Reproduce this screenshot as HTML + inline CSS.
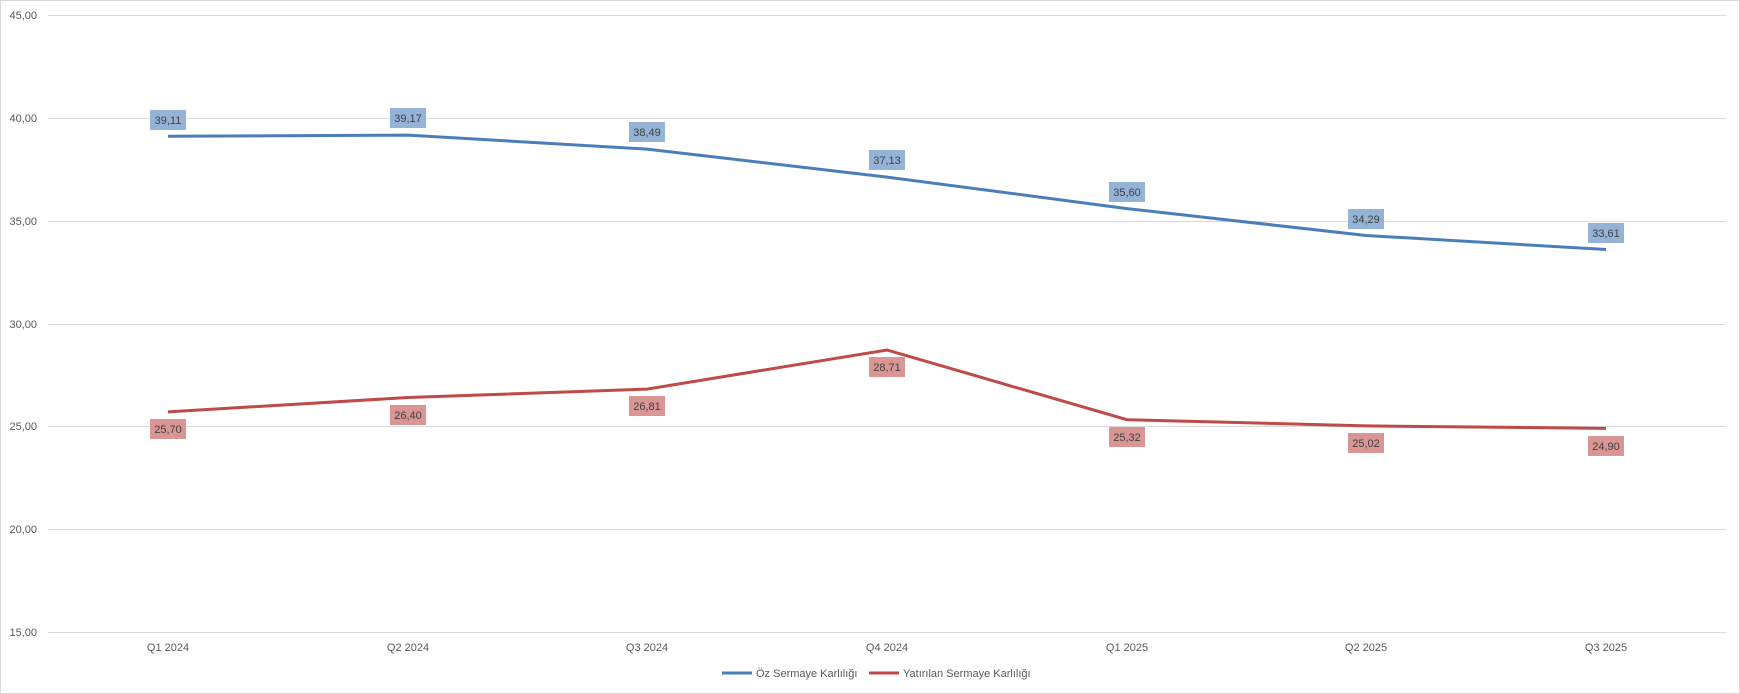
<!DOCTYPE html><html><head><meta charset="utf-8"><style>body{margin:0;background:#fff}svg{display:block;font-family:"Liberation Sans",sans-serif}</style></head><body>
<svg width="1740" height="694" xmlns="http://www.w3.org/2000/svg">
<rect x="0.5" y="0.5" width="1739" height="693" fill="#fff" stroke="#d9d9d9"/>
<g stroke="#d9d9d9" stroke-width="1">
<line x1="48" x2="1726" y1="15.5" y2="15.5"/><line x1="48" x2="1726" y1="118.5" y2="118.5"/><line x1="48" x2="1726" y1="221.5" y2="221.5"/><line x1="48" x2="1726" y1="324.5" y2="324.5"/><line x1="48" x2="1726" y1="426.5" y2="426.5"/><line x1="48" x2="1726" y1="529.5" y2="529.5"/><line x1="48" x2="1726" y1="632.5" y2="632.5"/>
</g>
<g font-size="11" fill="#595959" text-anchor="end">
<text x="37" y="19">45,00</text><text x="37" y="122">40,00</text><text x="37" y="225">35,00</text><text x="37" y="328">30,00</text><text x="37" y="430">25,00</text><text x="37" y="533">20,00</text><text x="37" y="636">15,00</text>
</g>
<g font-size="11" fill="#595959" text-anchor="middle">
<text x="168" y="651">Q1 2024</text><text x="408" y="651">Q2 2024</text><text x="647" y="651">Q3 2024</text><text x="887" y="651">Q4 2024</text><text x="1127" y="651">Q1 2025</text><text x="1366" y="651">Q2 2025</text><text x="1606" y="651">Q3 2025</text>
</g>
<polyline fill="none" stroke="#4a7ebb" stroke-width="3" points="168,136.3 408,135.1 647,149.1 887,177.1 1127,208.6 1366,235.5 1606,249.5"/>
<polyline fill="none" stroke="#be4b48" stroke-width="3" points="168,411.9 408,397.5 647,389.1 887,350 1127,419.7 1366,425.9 1606,428.4"/>
<g font-size="11" fill="#404040" text-anchor="middle">
<rect x="150" y="110" width="36" height="20" fill="#95b3d7"/><text x="168" y="124">39,11</text>
<rect x="390" y="108" width="36" height="20" fill="#95b3d7"/><text x="408" y="122">39,17</text>
<rect x="629" y="122" width="36" height="20" fill="#95b3d7"/><text x="647" y="136">38,49</text>
<rect x="869" y="150" width="36" height="20" fill="#95b3d7"/><text x="887" y="164">37,13</text>
<rect x="1109" y="182" width="36" height="20" fill="#95b3d7"/><text x="1127" y="196">35,60</text>
<rect x="1348" y="209" width="36" height="20" fill="#95b3d7"/><text x="1366" y="223">34,29</text>
<rect x="1588" y="223" width="36" height="20" fill="#95b3d7"/><text x="1606" y="237">33,61</text>
<rect x="150" y="419" width="36" height="20" fill="#d99694"/><text x="168" y="433">25,70</text>
<rect x="390" y="405" width="36" height="20" fill="#d99694"/><text x="408" y="419">26,40</text>
<rect x="629" y="396" width="36" height="20" fill="#d99694"/><text x="647" y="410">26,81</text>
<rect x="869" y="357" width="36" height="20" fill="#d99694"/><text x="887" y="371">28,71</text>
<rect x="1109" y="427" width="36" height="20" fill="#d99694"/><text x="1127" y="441">25,32</text>
<rect x="1348" y="433" width="36" height="20" fill="#d99694"/><text x="1366" y="447">25,02</text>
<rect x="1588" y="436" width="36" height="20" fill="#d99694"/><text x="1606" y="450">24,90</text>
</g>
<line x1="722" x2="752" y1="673" y2="673" stroke="#4a7ebb" stroke-width="3"/>
<text x="756" y="677" font-size="11" fill="#595959">Öz Sermaye Karlılığı</text>
<line x1="869" x2="899" y1="673" y2="673" stroke="#be4b48" stroke-width="3"/>
<text x="903" y="677" font-size="11" fill="#595959">Yatırılan Sermaye Karlılığı</text>
</svg></body></html>
